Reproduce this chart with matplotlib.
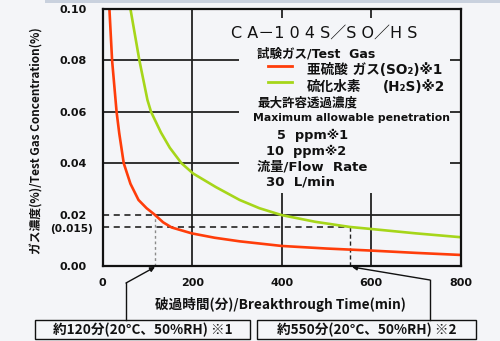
import matplotlib
matplotlib.use("Agg")
import matplotlib.pyplot as plt
from matplotlib.lines import Line2D
from matplotlib.patches import Rectangle, FancyArrowPatch

plt.rcParams['font.family'] = ['Noto Sans CJK JP', 'DejaVu Sans']

# ---- data ----
so2_time = [15, 21, 31, 37, 47, 62, 80, 98, 116, 135, 154, 199, 250, 306, 400, 500, 600, 700, 800]
so2_conc = [0.100, 0.080, 0.060, 0.0516, 0.040, 0.032, 0.0257, 0.0225, 0.0200, 0.0170, 0.0150,
            0.0127, 0.0110, 0.0096, 0.0078, 0.0068, 0.0060, 0.0051, 0.0043]
h2s_time = [62, 82, 100, 108, 130, 150, 176, 202, 253, 306, 350, 400, 475, 552, 600, 700, 800]
h2s_conc = [0.100, 0.080, 0.0646, 0.060, 0.052, 0.046, 0.040, 0.036, 0.0307, 0.0257, 0.0225,
            0.0198, 0.0172, 0.0152, 0.0144, 0.0127, 0.0112]
x_ticks = [0, 200, 400, 600, 800]
y_ticks = [0.00, 0.02, 0.04, 0.06, 0.08, 0.10]
y_tick_labels = ["0.00", "0.02", "0.04", "0.06", "0.08", "0.10"]
limit_conc = 0.02
mark_conc = 0.015
so2_break = 117
h2s_break = 552

BG = '#f4f5f8'
RED = '#ff3d0a'
GREEN = '#a6d61a'
INK = '#111111'
LAT = ['DejaVu Sans', 'Noto Sans CJK JP']
W, H = 500, 341

fig = plt.figure(figsize=(W / 100, H / 100), dpi=100, facecolor=BG)

def fx(px):
    return px / W

def fy(py):
    return 1 - py / H

# top band
fig.patches.append(Rectangle((fx(45), fy(3)), 1, 3 / H, transform=fig.transFigure,
                             facecolor='#c9d1de', edgecolor='none'))

ax = fig.add_axes([fx(102.7), fy(266), (460.7 - 102.7) / W, (266 - 9) / H])
ax.set_facecolor(BG)
ax.set_xlim(0, 800)
ax.set_ylim(0, 0.10)
for s in ax.spines.values():
    s.set_linewidth(1.6)
    s.set_color(INK)
    s.set_zorder(5)

ax.set_xticks(x_ticks)
ax.set_xticklabels([str(v) for v in x_ticks])
ax.set_yticks(y_ticks)
ax.set_yticklabels(y_tick_labels)
ax.tick_params(length=0, colors=INK)
ax.tick_params(axis='y', pad=11.5)
ax.tick_params(axis='x', pad=9)
for lab in ax.get_xticklabels() + ax.get_yticklabels():
    lab.set_fontweight('bold')
    lab.set_family(LAT)
    lab.set_fontsize(8)

gc = '#222222'
for yv in y_ticks[2:5]:
    ax.axhline(yv, color=gc, lw=1.3, zorder=1)
for xv in x_ticks[1:4]:
    ax.axvline(xv, color=gc, lw=1.3, zorder=1)
ax.plot([so2_break, 800], [limit_conc, limit_conc], color=gc, lw=1.3, zorder=1)
ax.plot([0, so2_break], [limit_conc, limit_conc], color=INK, lw=1.1,
        ls=(0, (4, 3)), zorder=1)
ax.plot([0, h2s_break], [mark_conc, mark_conc], color=INK, lw=1.1,
        ls=(0, (4, 3)), zorder=1)
ax.plot([so2_break, so2_break], [0, limit_conc], color='#8a8a8a', lw=1.0,
        ls=(0, (2, 2)), zorder=1)
ax.plot([h2s_break, h2s_break], [0, mark_conc], color='#222222', lw=1.0,
        ls=(0, (3, 2)), zorder=1)

# legend area box (covers grid)
ax.add_patch(Rectangle((304, 0.0283), 776 - 304, 0.0965 - 0.0283, facecolor=BG,
                       edgecolor='none', zorder=2))

ax.plot(so2_time, so2_conc, color=RED, lw=1.9, zorder=3, solid_joinstyle='round')
ax.plot(h2s_time, h2s_conc, color=GREEN, lw=1.9, zorder=3, solid_joinstyle='round')

ax.text(-0.028, 0.0145, "(0.015)", transform=ax.get_yaxis_transform(),
        ha='right', va='center', fontsize=7.6, fontweight='bold', color=INK, family=LAT)

fig.text(fx(37), fy(141), "ガス濃度(%)/Test Gas Concentration(%)", rotation=90,
         ha='center', va='center', fontsize=8.5, fontweight='bold', color=INK)
fig.text(fx(280), fy(304), "破過時間(分)/Breakthrough Time(min)",
         ha='center', va='center', fontsize=9.8, fontweight='bold', color=INK)

# legend texts
def t(px, py, s, size=9, weight='bold', family=LAT):
    fig.text(fx(px), fy(py), s, ha='left', va='center', fontsize=size,
             fontweight=weight, color=INK, family=family)

SP = ' '
t(231, 33, SP.join("CA") + "－" + SP.join("104S") + "／" + SP.join("SO") + "／" + SP.join("HS"),
  size=11.5, weight='normal')
t(257, 54, "試験ガス/Test  Gas", size=9)
fig.add_artist(Line2D([fx(268), fx(292)], [fy(66), fy(66)], color=RED, lw=2,
                      transform=fig.transFigure))
t(307, 70, "亜硫酸 ガス(SO₂)※1", size=9.8)
fig.add_artist(Line2D([fx(268), fx(292)], [fy(82), fy(82)], color=GREEN, lw=2,
                      transform=fig.transFigure))
t(307, 87, "硫化水素", size=9.8)
t(383, 87, "(H₂S)※2", size=9.8)
t(257, 103, "最大許容透過濃度", size=9)
t(253, 118, "Maximum allowable penetration", size=7.8)
t(277, 135, "5  ppm※1", size=9.3)
t(266, 151, "10  ppm※2", size=9.3)
t(257, 167, "流量/Flow  Rate", size=9.5)
t(266, 182, "30  L/min", size=9.5)

# bottom annotation boxes
for x0, x1, s in [(35, 250, "約120分(20°C、50%RH) ※1"), (257, 476, "約550分(20°C、50%RH) ※2")]:
    fig.patches.append(Rectangle((fx(x0), fy(339)), (x1 - x0) / W, (339 - 320) / H,
                                 transform=fig.transFigure, facecolor=BG,
                                 edgecolor=INK, lw=1.0))
    fig.text(fx((x0 + x1) / 2), fy(330), s, ha='center', va='center', fontsize=9.8,
             fontweight='bold', color=INK)

# arrows
for cx, top_y, tx, ty in [(126, 283, 155, 267), (430, 280, 352, 267)]:
    fig.add_artist(Line2D([fx(cx), fx(cx)], [fy(320), fy(top_y)], color=INK, lw=1.0,
                          transform=fig.transFigure))
    fig.add_artist(FancyArrowPatch(
        (fx(cx), fy(top_y)), (fx(tx), fy(ty)), transform=fig.transFigure,
        arrowstyle='-|>', mutation_scale=7, color=INK, lw=1.0,
        shrinkA=0, shrinkB=0))

fig.savefig("out.png", dpi=100, facecolor=BG)
